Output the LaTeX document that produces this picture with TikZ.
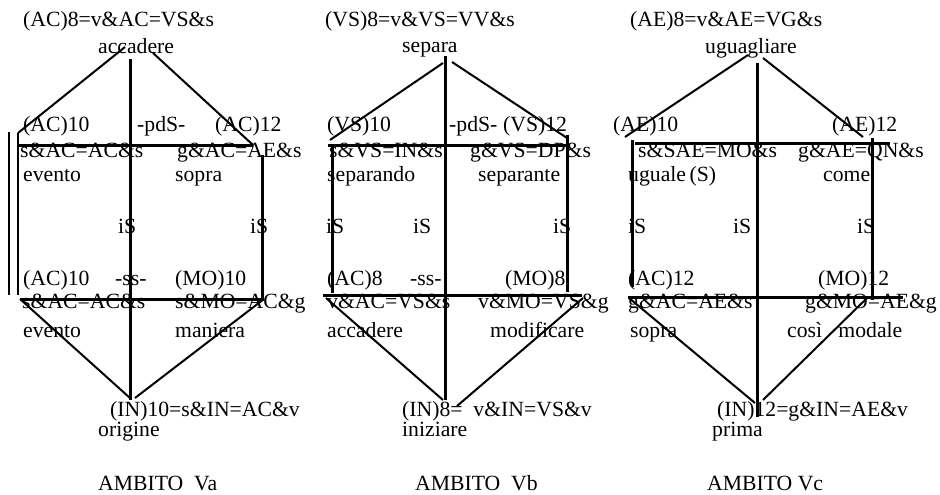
\documentclass[tikz,border=0pt]{standalone}
\usepackage{fontspec}
\setmainfont{Liberation Serif}
\usepackage{tikz}

\tikzset{
  txt/.style={anchor=base west,inner sep=0pt},
  bar/.style={line width=3pt},
  diag/.style={line width=2pt},
  hair/.style={line width=1.2pt}
}

\begin{document}
\begin{tikzpicture}[x=1pt,y=-1pt,font=\fontsize{21.7}{25}\selectfont]
  \useasboundingbox (0,0) rectangle (940,495);

  % ambito Va
  \node[txt] (a0) at (23,27) {(AC)8=v\&AC=VS\&s};
  \node[txt] (a1) at (98,54) {accadere};
  \node[txt] (a2) at (23,131) {(AC)10};
  \node[txt] (a3) at (137,131) {-pdS-};
  \node[txt] (a4) at (215,131) {(AC)12};
  \node[txt] (a5) at (20,157) {s\&AC=AC\&s};
  \node[txt] (a6) at (177,157) {g\&AC=AE\&s};
  \node[txt] (a7) at (23,181) {evento};
  \node[txt] (a8) at (175,181) {sopra};
  \node[txt] (a9) at (118,233) {iS};
  \node[txt] (a10) at (250,233) {iS};
  \node[txt] (a11) at (23,285) {(AC)10};
  \node[txt] (a12) at (115,285) {-ss-};
  \node[txt] (a13) at (175,285) {(MO)10};
  \node[txt] (a14) at (22,308) {s\&AC=AC\&s};
  \node[txt] (a15) at (175,308) {s\&MO=AC\&g};
  \node[txt] (a16) at (23,337) {evento};
  \node[txt] (a17) at (175,337) {maniera};
  \node[txt] (a18) at (110,416) {(IN)10=s\&IN=AC\&v};
  \node[txt] (a19) at (98,436) {origine};
  \node[txt] (a20) at (98,490) {AMBITO\ \ Va};

  \coordinate (aTopL) at (125,47);
  \coordinate (aTopR) at (153,53);
  \coordinate (aNW) at (18,145);
  \coordinate (aNE) at (253,145);
  \coordinate (aSW) at (20,299);
  \coordinate (aSE) at (264,299);
  \coordinate (aMidT) at (130,59);
  \coordinate (aMidB) at (130,400);
  \coordinate (aBot) at (130,398);
  \coordinate (aBotR) at (135,398);
  \draw[diag] (aNW) ++(0,-12) -- (aTopL);
  \draw[diag] (aTopR) -- (aNE);
  \draw[bar] (aMidT) -- (aMidB);
  \draw[bar] (aNW) -- (aNE);
  \draw[hair] (9,132) -- (9,295);
  \draw[hair] (aNW) ++(0,-12) -- (18,295);
  \draw[bar] (262,155) -- (262,298);
  \draw[bar] (aSW) -- (aSE);
  \draw[diag] (aSW) -- (aBot);
  \draw[diag] (aSE) -- (aBotR);

  % ambito Vb
  \node[txt] (b0) at (325,27) {(VS)8=v\&VS=VV\&s};
  \node[txt] (b1) at (402,53) {separa};
  \node[txt] (b2) at (327,131) {(VS)10};
  \node[txt] (b3) at (449,131) {-pdS-};
  \node[txt] (b4) at (503,131) {(VS)12};
  \node[txt] (b5) at (329,157) {s\&VS=IN\&s};
  \node[txt] (b6) at (470,157) {g\&VS=DP\&s};
  \node[txt] (b7) at (327,181) {separando};
  \node[txt] (b8) at (478,181) {separante};
  \node[txt] (b9) at (326,233) {iS};
  \node[txt] (b10) at (413,233) {iS};
  \node[txt] (b11) at (553,233) {iS};
  \node[txt] (b12) at (327,285) {(AC)8};
  \node[txt] (b13) at (410,285) {-ss-};
  \node[txt] (b14) at (505,285) {(MO)8};
  \node[txt] (b15) at (327,308) {v\&AC=VS\&s};
  \node[txt] (b16) at (478,308) {v\&MO=VS\&g};
  \node[txt] (b17) at (327,337) {accadere};
  \node[txt] (b18) at (490,337) {modificare};
  \node[txt] (b19) at (402,416) {(IN)8=\ \ v\&IN=VS\&v};
  \node[txt] (b20) at (402,436) {iniziare};
  \node[txt] (b21) at (415,490) {AMBITO\ \ Vb};

  \coordinate (bTopL) at (443,63);
  \coordinate (bTopR) at (452,62);
  \coordinate (bNW) at (328,145);
  \coordinate (bNE) at (568,145);
  \coordinate (bSW) at (323,295);
  \coordinate (bSE) at (582,295);
  \coordinate (bMidT) at (445,56);
  \coordinate (bMidB) at (445,400);
  \coordinate (bBot) at (443,400);
  \coordinate (bBotR) at (457,406);
  \draw[diag] (330,140) -- (bTopL);
  \draw[diag] (bTopR) -- (567,138);
  \draw[bar] (bMidT) -- (bMidB);
  \draw[bar] (bNW) -- (bNE);
  \draw[bar] (332,145) -- (332,293);
  \draw[bar] (567,135) -- (567,292);
  \draw[bar] (bSW) -- (bSE);
  \draw[diag] (326,298) -- (bBot);
  \draw[diag] (583,298) -- (bBotR);

  % ambito Vc
  \node[txt] (c0) at (630,27) {(AE)8=v\&AE=VG\&s};
  \node[txt] (c1) at (705,54) {uguagliare};
  \node[txt] (c2) at (613,131) {(AE)10};
  \node[txt] (c3) at (832,131) {(AE)12};
  \node[txt] (c4) at (638,157) {s\&SAE=MO\&s};
  \node[txt] (c5) at (798,157) {g\&AE=QN\&s};
  \node[txt] (c6) at (628,181) {uguale\,(S)};
  \node[txt] (c7) at (823,181) {come};
  \node[txt] (c8) at (628,233) {iS};
  \node[txt] (c9) at (733,233) {iS};
  \node[txt] (c10) at (857,233) {iS};
  \node[txt] (c11) at (628,285) {(AC)12};
  \node[txt] (c12) at (818,285) {(MO)12};
  \node[txt] (c13) at (628,308) {g\&AC=AE\&s};
  \node[txt] (c14) at (805,308) {g\&MO=AE\&g};
  \node[txt] (c15) at (630,337) {sopra};
  \node[txt] (c16) at (787,337) {così\ \ \ modale};
  \node[txt] (c17) at (717,416) {(IN)12=g\&IN=AE\&v};
  \node[txt] (c18) at (712,436) {prima};
  \node[txt] (c19) at (707,490) {AMBITO Vc};

  \coordinate (cTopL) at (748,55);
  \coordinate (cTopR) at (763,58);
  \coordinate (cNW) at (635,143);
  \coordinate (cNE) at (890,143);
  \coordinate (cSW) at (628,297);
  \coordinate (cSE) at (903,297);
  \coordinate (cMidT) at (757,63);
  \coordinate (cMidB) at (757,417);
  \coordinate (cBot) at (755,403);
  \coordinate (cBotR) at (763,400);
  \draw[diag] (625,137) -- (cTopL);
  \draw[diag] (cTopR) -- (863,137);
  \draw[bar] (cMidT) -- (cMidB);
  \draw[bar] (cNW) -- (cNE);
  \draw[bar] (632,140) -- (632,287);
  \draw[bar] (872,138) -- (872,300);
  \draw[bar] (cSW) -- (cSE);
  \draw[diag] (629,298) -- (cBot);
  \draw[diag] (867,298) -- (cBotR);
\end{tikzpicture}
\end{document}
